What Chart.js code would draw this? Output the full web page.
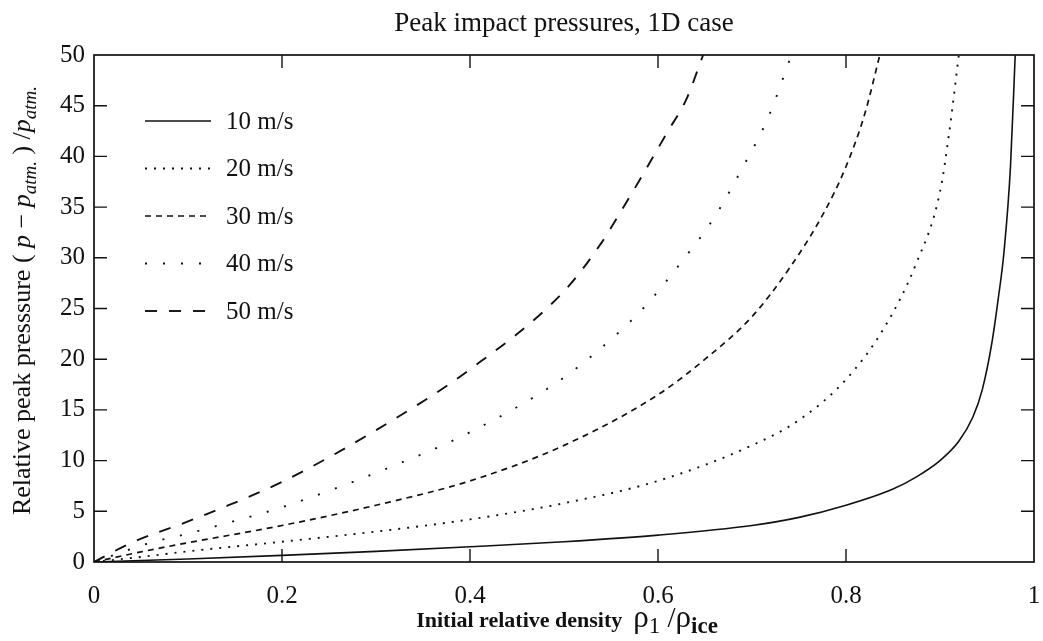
<!DOCTYPE html>
<html>
<head>
<meta charset="utf-8">
<script src="https://cdn.jsdelivr.net/npm/chart.js@4"></script>
<style>
  html, body { margin: 0; padding: 0; background: #fff; }
  #wrap { width: 1043px; height: 641px; }
</style>
</head>
<body>
<div id="wrap"><canvas id="myChart" width="1043" height="641"></canvas></div>
<script>
// relative density (x) and relative peak pressure (y)
const dens10 = [0, 0.05, 0.1, 0.2, 0.3, 0.4, 0.5, 0.6, 0.7, 0.75, 0.8, 0.85, 0.875, 0.9, 0.92, 0.935, 0.945, 0.955, 0.962, 0.968, 0.975, 0.98];
const pres10 = [0, 0.15, 0.3, 0.65, 1.05, 1.5, 2.0, 2.65, 3.6, 4.4, 5.6, 7.2, 8.4, 10.0, 11.9, 14.3, 17.0, 21.5, 26.0, 30.5, 39, 50];

const dens20 = [0, 0.05, 0.1, 0.2, 0.3, 0.4, 0.5, 0.6, 0.7, 0.75, 0.8, 0.84, 0.875, 0.9, 0.91, 0.92];
const pres20 = [0, 0.5, 1.05, 2.0, 3.0, 4.2, 5.8, 8.0, 11.5, 14.0, 18.0, 23.0, 29.5, 36.5, 42.5, 50];

const dens30 = [0, 0.05, 0.1, 0.2, 0.3, 0.4, 0.5, 0.6, 0.65, 0.7, 0.74, 0.775, 0.8, 0.82, 0.836];
const pres30 = [0, 1.0, 1.9, 3.6, 5.6, 8.0, 11.5, 16.5, 20.0, 24.2, 29.0, 34.2, 39.0, 44.2, 50];

const dens40 = [0, 0.06, 0.1, 0.14, 0.2, 0.3, 0.4, 0.5, 0.56, 0.59, 0.625, 0.66, 0.69, 0.717, 0.742];
const pres40 = [0, 1.9, 2.8, 3.8, 5.4, 8.8, 12.8, 18.2, 22.8, 25.6, 29.6, 34.0, 38.9, 43.8, 50];

const dens50 = [0, 0.04, 0.1, 0.13, 0.2, 0.3, 0.4, 0.5, 0.54, 0.56, 0.58, 0.61, 0.63, 0.648];
const pres50 = [0, 1.9, 4.0, 5.1, 7.9, 13.0, 19.0, 26.7, 31.5, 34.5, 37.6, 42.4, 45.6, 50];

const speedLabels = ['10 m/s', '20 m/s', '30 m/s', '40 m/s', '50 m/s'];
const xTicks = [0, 0.2, 0.4, 0.6, 0.8, 1];
const yTicks = [0, 5, 10, 15, 20, 25, 30, 35, 40, 45, 50];

const SERIF = '"Liberation Serif", "DejaVu Serif", serif';

const toPoints = (xs, ys) => xs.map((x, i) => ({ x: x, y: ys[i] }));

const lineStyles = [
    { dash: [], width: 1.6 },
    { dash: [2, 7], width: 1.9 },
    { dash: [6, 5], width: 1.7 },
    { dash: [2, 16], width: 1.9 },
    { dash: [12, 12], width: 1.9 }
];

const allDens = [dens10, dens20, dens30, dens40, dens50];
const allPres = [pres10, pres20, pres30, pres40, pres50];

const datasets = speedLabels.map((lab, i) => ({
    label: lab,
    data: toPoints(allDens[i], allPres[i]),
    borderColor: '#111',
    borderWidth: lineStyles[i].width,
    borderDash: lineStyles[i].dash,
    pointRadius: 0,
    fill: false,
    cubicInterpolationMode: 'monotone'
}));

// text made of pieces (normal, italic, subscript)
const measureParts = (ctx, parts) => {
    let w = 0;
    parts.forEach(p => {
        ctx.font = p.font;
        w += ctx.measureText(p.t).width;
    });
    return w;
};

const drawParts = (ctx, parts, x, y) => {
    parts.forEach(p => {
        ctx.font = p.font;
        ctx.fillText(p.t, x, y + (p.dy || 0));
        x += ctx.measureText(p.t).width;
    });
};

const decorations = {
    id: 'decorations',
    afterDatasetsDraw(chart) {
        const ctx = chart.ctx;
        const a = chart.chartArea;
        const xs = chart.scales.x;
        const ys = chart.scales.y;
        ctx.save();
        ctx.strokeStyle = '#111';
        ctx.fillStyle = '#111';

        // frame
        ctx.lineWidth = 1.7;
        ctx.strokeRect(a.left, a.top, a.right - a.left, a.bottom - a.top);

        // inward ticks on all four sides
        ctx.lineWidth = 1.4;
        ctx.beginPath();
        xTicks.slice(1, -1).forEach(v => {
            const px = xs.getPixelForValue(v);
            ctx.moveTo(px, a.bottom); ctx.lineTo(px, a.bottom - 13);
            ctx.moveTo(px, a.top); ctx.lineTo(px, a.top + 13);
        });
        yTicks.slice(1, -1).forEach(v => {
            const py = ys.getPixelForValue(v);
            ctx.moveTo(a.left, py); ctx.lineTo(a.left + 13, py);
            ctx.moveTo(a.right, py); ctx.lineTo(a.right - 13, py);
        });
        ctx.stroke();

        // legend in the upper left of the plot
        ctx.textBaseline = 'middle';
        ctx.textAlign = 'left';
        chart.data.datasets.forEach((ds, i) => {
            const y = 121 + i * 47.5;
            ctx.lineWidth = ds.borderWidth;
            ctx.setLineDash(ds.borderDash);
            ctx.beginPath();
            ctx.moveTo(145, y);
            ctx.lineTo(211, y);
            ctx.stroke();
            ctx.setLineDash([]);
            ctx.font = '25px ' + SERIF;
            ctx.fillText(ds.label, 226, y + 1);
        });

        // title
        ctx.textAlign = 'left';
        ctx.textBaseline = 'alphabetic';
        ctx.font = '27px ' + SERIF;
        const title = 'Peak impact pressures, 1D case';
        const tw = ctx.measureText(title).width;
        ctx.fillText(title, (a.left + a.right) / 2 - tw / 2, 31);

        // x axis title
        const xParts = [
            { t: 'Initial relative density  ', font: 'bold 22px ' + SERIF },
            { t: 'ρ', font: '31px ' + SERIF },
            { t: '1', font: '23px ' + SERIF, dy: 6 },
            { t: ' /', font: '29px ' + SERIF },
            { t: 'ρ', font: '31px ' + SERIF },
            { t: 'ice', font: 'bold 23px ' + SERIF, dy: 6 }
        ];
        const xw = measureParts(ctx, xParts);
        drawParts(ctx, xParts, (a.left + a.right) / 2 - xw / 2 + 3, 627);

        // y axis title (rotated)
        const yParts = [
            { t: 'Relative peak presssure ( ', font: '26px ' + SERIF },
            { t: 'p', font: 'italic 26px ' + SERIF },
            { t: ' − ', font: '26px ' + SERIF },
            { t: 'p', font: 'italic 26px ' + SERIF },
            { t: 'atm.', font: 'italic 19px ' + SERIF, dy: 6 },
            { t: ' ) /', font: '26px ' + SERIF },
            { t: 'p', font: 'italic 26px ' + SERIF },
            { t: 'atm.', font: 'italic 19px ' + SERIF, dy: 6 }
        ];
        const yw = measureParts(ctx, yParts);
        ctx.translate(30, (a.top + a.bottom) / 2 - 8);
        ctx.rotate(-Math.PI / 2);
        drawParts(ctx, yParts, -yw / 2, 0);

        ctx.restore();
    }
};

const ctx = document.getElementById('myChart').getContext('2d');

const myChart = new Chart(ctx, {
    type: 'line',
    data: { datasets: datasets },
    options: {
        responsive: false,
        animation: false,
        layout: { padding: { top: 55, right: 9, left: 0, bottom: 0 } },
        plugins: {
            legend: { display: false },
            title: { display: false },
            tooltip: { enabled: false }
        },
        scales: {
            x: {
                type: 'linear',
                min: 0,
                max: 1,
                grid: { display: false },
                border: { display: false },
                afterFit: s => { s.height = 79; s.paddingLeft = 0; s.paddingRight = 0; },
                afterBuildTicks: s => { s.ticks = xTicks.map(v => ({ value: v })); },
                ticks: {
                    padding: 11,
                    color: '#111',
                    font: { family: SERIF, size: 25 },
                    maxRotation: 0,
                    callback: v => String(v)
                }
            },
            y: {
                type: 'linear',
                min: 0,
                max: 50,
                grid: { display: false },
                border: { display: false },
                afterFit: s => { s.width = 94; s.paddingTop = 0; s.paddingBottom = 0; },
                afterBuildTicks: s => { s.ticks = yTicks.map(v => ({ value: v })); },
                ticks: {
                    padding: 1,
                    color: '#111',
                    font: { family: SERIF, size: 25 },
                    callback: v => String(v)
                }
            }
        }
    },
    plugins: [decorations]
});
</script>
</body>
</html>
